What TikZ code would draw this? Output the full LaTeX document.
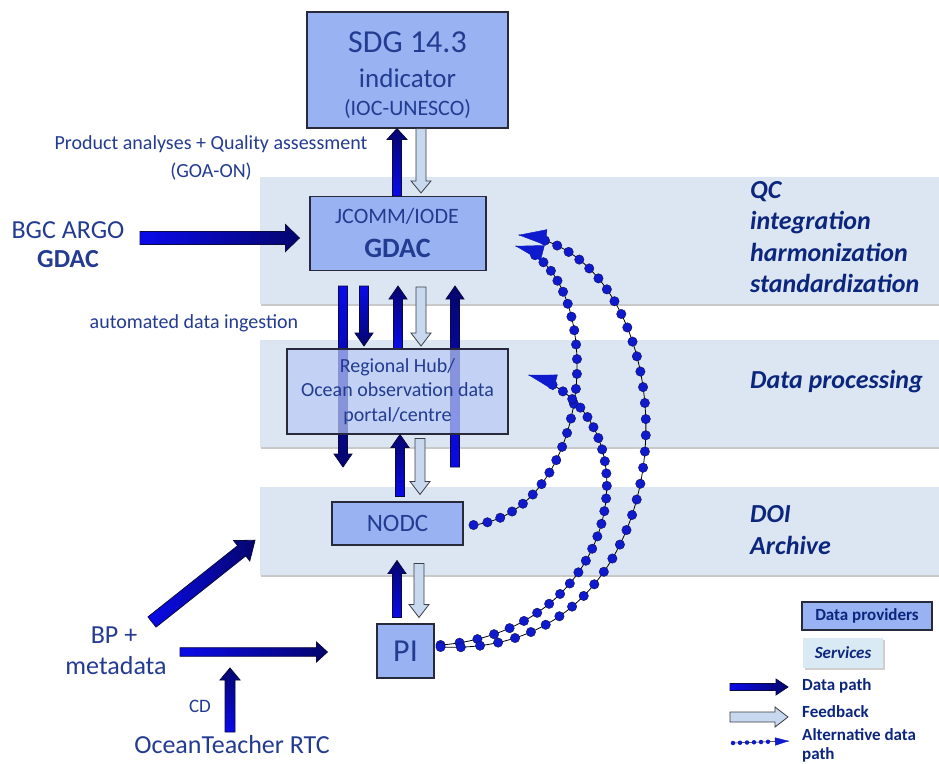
\documentclass[tikz,border=0pt]{standalone}
\usepackage{fontspec}
\setmainfont{Carlito}
\usetikzlibrary{calc,arrows.meta,shadows}

\definecolor{bandfill}{RGB}{220,230,242}
\definecolor{boxfill}{RGB}{153,178,242}
\definecolor{hubfill}{RGB}{185,202,245}
\definecolor{svcfill}{RGB}{218,234,244}
\definecolor{boxline}{RGB}{40,42,60}
\definecolor{txt}{RGB}{35,60,145}
\definecolor{lbl}{RGB}{12,38,125}
\definecolor{arrlight}{RGB}{10,10,235}
\definecolor{arrdark}{RGB}{5,5,110}
\definecolor{arredge}{RGB}{10,10,60}
\definecolor{fbfill}{RGB}{200,216,238}
\definecolor{fbedge}{RGB}{60,62,70}
\definecolor{dotblue}{RGB}{15,25,205}

% #1 style, #2 tail, #3 tip, #4 shaft half width, #5 head half width, #6 head length
\newcommand\blockarrow[6]{%
  \coordinate (bantmp) at ($(#3)!#6!(#2)$);
  \path[#1] ($(#2)!#4!90:(#3)$) -- ($(bantmp)!#4!90:(#3)$) -- ($(bantmp)!#5!90:(#3)$) -- (#3)
    -- ($(bantmp)!#5!-90:(#3)$) -- ($(bantmp)!#4!-90:(#3)$) -- ($(#2)!#4!-90:(#3)$) -- cycle;}

\begin{document}
\begin{tikzpicture}[x=1pt,y=-1pt,
  band/.style={fill=bandfill, inner sep=0pt, anchor=north west,
    drop shadow={shadow xshift=1.2pt, shadow yshift=-2.2pt, opacity=0.35, fill=black!60}},
  box/.style={draw=boxline, line width=1.1pt, fill=boxfill, inner sep=0pt, text=txt},
  tx/.style={text=txt, inner sep=0pt, anchor=base},
  lab/.style={text=lbl, inner sep=0pt, font=\fontsize{26}{31.5}\selectfont\bfseries\itshape, align=left},
  leg/.style={text=lbl, inner sep=0pt, anchor=west, font=\fontsize{17}{19}\selectfont\bfseries, align=left},
  dataup/.style={draw=arredge, line width=0.8pt, top color=arrdark, bottom color=arrlight},
  datadown/.style={draw=arredge, line width=0.8pt, top color=arrlight, bottom color=arrdark},
  dataright/.style={draw=arredge, line width=0.8pt, left color=arrlight, right color=arrdark},
  feedback/.style={draw=fbedge, line width=0.8pt, fill=fbfill},
  altcurve/.style={draw=black, line width=0.8pt},
  althead/.style={draw=dotblue, line width=0.4pt, -{Triangle[length=28pt,width=16pt,color=dotblue]}},
  dotnode/.style={circle, fill=dotblue, draw=arredge, line width=0.3pt, inner sep=0pt, minimum size=9.5pt},
  altheadsmall/.style={draw=dotblue, line width=0.4pt, -{Triangle[length=14pt,width=8pt,color=dotblue]}},
  dotsmall/.style={circle, fill=dotblue, inner sep=0pt, minimum size=4.5pt}
]
\useasboundingbox (0,0) rectangle (939,763);
\clip (0,0) rectangle (939,763);
\fill[white] (0,0) rectangle (939,763);

% bands
\node[band, minimum width=700pt, minimum height=127pt] (b1) at (260,177) {};
\node[band, minimum width=700pt, minimum height=107pt] (b2) at (260,340) {};
\node[band, minimum width=700pt, minimum height=88pt] (b3) at (260,487) {};

\node[lab, anchor=west] (l1) at (750,237) {QC\\integration\\harmonization\\standardization};
\node[lab, anchor=base west] (l2) at (750,388) {Data processing};
\node[lab, anchor=west] (l3) at (750,530) {DOI\\Archive};

% boxes (except hub)
\node[box, minimum width=201pt, minimum height=116pt] (sdg) at (407.5,70) {};
\node[tx, font=\fontsize{32}{36}\selectfont] (sdg1) at (407.5,52) {SDG 14.3};
\node[tx, font=\fontsize{27}{30}\selectfont] (sdg2) at (407.5,87) {indicator};
\node[tx, font=\fontsize{22}{26}\selectfont] (sdg3) at (407.5,115) {(IOC-UNESCO)};

\node[box, minimum width=176pt, minimum height=74pt] (gdac) at (398,233.5) {};
\node[tx, font=\fontsize{22}{26}\selectfont] (gdac1) at (397,223) {JCOMM/IODE};
\node[tx, font=\fontsize{28}{32}\selectfont\bfseries] (gdac2) at (397.5,257) {GDAC};

\node[box, minimum width=131pt, minimum height=43pt, font=\fontsize{25}{28}\selectfont] (nodc) at (397.5,523.5) {NODC};
\node[box, minimum width=57pt, minimum height=54pt, font=\fontsize{32}{36}\selectfont] (pi) at (405.5,651) {PI};

% helper x positions
\foreach \xx in {343,364,397,398,400,419,420,421,455}
  \coordinate (x\xx) at (\xx,0);

% SDG <-> GDAC
\coordinate (u1s) at (gdac.north -| x397);
\coordinate (u1e) at (sdg.south -| x397);
\blockarrow{dataup}{u1s}{u1e}{4.5pt}{10pt}{11pt}
\coordinate (f1s) at (sdg.south -| x421);
\coordinate (f1e) at ($(gdac.north -| x421)+(0,-3)$);
\blockarrow{feedback}{f1s}{f1e}{5pt}{10pt}{12pt}

% GDAC <-> Hub
\coordinate (as) at ($(gdac.south -| x343)+(0,15)$);
\coordinate (ae) at (343,467);
\blockarrow{datadown}{as}{ae}{4.5pt}{9pt}{13pt}
\coordinate (bs) at ($(gdac.south -| x364)+(0,15)$);
\coordinate (be) at (364,346);
\blockarrow{datadown}{bs}{be}{4.5pt}{9pt}{13pt}
\coordinate (cs) at (398,349);
\coordinate (ce) at ($(gdac.south -| x398)+(0,15)$);
\blockarrow{dataup}{cs}{ce}{4.5pt}{9pt}{13pt}
\coordinate (ds) at ($(gdac.south -| x421)+(0,16)$);
\coordinate (de) at (421,346);
\blockarrow{feedback}{ds}{de}{5pt}{10pt}{13pt}
\coordinate (es) at (455,467);
\coordinate (ee) at ($(gdac.south -| x455)+(0,15)$);
\blockarrow{dataup}{es}{ee}{4.5pt}{9pt}{13pt}

% hub (semi-transparent, over the arrows)
\node[box, fill=hubfill, fill opacity=0.72, text opacity=1, minimum width=221pt, minimum height=85pt,
  align=center, font=\fontsize{20}{24.5}\selectfont] (hub) at (397.5,391.5)
  {Regional Hub/\\Ocean observation data\\portal/centre};

% Hub <-> NODC
\coordinate (gs) at ($(nodc.north -| x400)+(0,-5)$);
\coordinate (ge) at (hub.south -| x400);
\blockarrow{dataup}{gs}{ge}{4.5pt}{9pt}{13pt}
\coordinate (hs) at ($(hub.south -| x420)+(0,4)$);
\coordinate (he) at ($(nodc.north -| x420)+(0,-7)$);
\blockarrow{feedback}{hs}{he}{5pt}{10pt}{13pt}

% NODC <-> PI
\coordinate (is) at ($(pi.north -| x397)+(0,-6)$);
\coordinate (ie) at ($(nodc.south -| x397)+(0,15)$);
\blockarrow{dataup}{is}{ie}{4.5pt}{9pt}{13pt}
\coordinate (js) at ($(nodc.south -| x419)+(0,18)$);
\coordinate (je) at ($(pi.north -| x419)+(0,-6)$);
\blockarrow{feedback}{js}{je}{5pt}{10pt}{13pt}

% left inputs
\node[tx, font=\fontsize{26}{30}\selectfont] (bgc1) at (68,238) {BGC ARGO};
\node[tx, font=\fontsize{26}{30}\selectfont\bfseries] (bgc2) at (68,267) {GDAC};
\coordinate (bgcT) at (140,238);
\coordinate (bgcH) at ($(gdac.west)+(-10,4.5)$);
\blockarrow{dataright}{bgcT}{bgcH}{6.5pt}{13.5pt}{14pt}

\node[tx, font=\fontsize{20}{24}\selectfont] (prod1) at (211,149) {Product analyses + Quality assessment};
\node[tx, font=\fontsize{20}{24}\selectfont] (prod2) at (211,177) {(GOA-ON)};
\node[tx, font=\fontsize{20}{24}\selectfont] (auto) at (194,328) {automated data ingestion};

\node[tx, font=\fontsize{26}{30}\selectfont] (bp1) at (114,643) {BP +};
\node[tx, font=\fontsize{26}{30}\selectfont] (bp2) at (116,674) {metadata};
\node[tx, font=\fontsize{19}{22}\selectfont] (cd) at (200,712) {CD};
\node[tx, font=\fontsize{26}{30}\selectfont] (ot) at (232,753) {OceanTeacher RTC};

\coordinate (dgT) at (152,622);
\coordinate (dgH) at ($(b3.west)+(-5,9)$);
\blockarrow{dataright}{dgT}{dgH}{6.5pt}{13pt}{17pt}
\coordinate (kT) at (180,652);
\coordinate (kH) at ($(pi.west)+(-49,1)$);
\blockarrow{dataright}{kT}{kH}{4.3pt}{10pt}{11pt}
\coordinate (cdT) at (230,732);
\coordinate (cdH) at (230,668);
\blockarrow{dataup}{cdT}{cdH}{5pt}{10pt}{12pt}

% alternative data paths
\coordinate (cA1) at ($(nodc.east)+(10,1.5)$);
\coordinate (cA2) at ($(gdac.east)+(29,12.5)$);
\coordinate (kA1) at (598,510);
\coordinate (kA2) at (608,270);
\coordinate (cB1) at ($(pi.east)+(6,-6)$);
\coordinate (cB2) at ($(hub.east)+(20,-16.5)$);
\coordinate (kB1) at (630,630);
\coordinate (kB2) at (655,410);
\coordinate (cC1) at ($(pi.east)+(6,-4)$);
\coordinate (cC2) at ($(gdac.east)+(32,1.5)$);
\coordinate (kC1) at (705,660);
\coordinate (kC2) at (695,250);
\draw[altcurve] (cA1) .. controls (kA1) and (kA2) .. (cA2);
\draw[altcurve] (cB1) .. controls (kB1) and (kB2) .. (cB2);
\draw[altcurve] (cC1) .. controls (kC1) and (kC2) .. (cC2);
\path (cA1) .. controls (kA1) and (kA2) .. (cA2)
  \foreach \k [evaluate=\k as \pp using \k/26] in {0,...,24} {node[dotnode, pos=\pp] {}};
\path (cB1) .. controls (kB1) and (kB2) .. (cB2)
  \foreach \k [evaluate=\k as \pp using \k/29] in {0,...,27} {node[dotnode, pos=\pp] {}};
\path (cC1) .. controls (kC1) and (kC2) .. (cC2)
  \foreach \k [evaluate=\k as \pp using \k/38] in {0,...,36} {node[dotnode, pos=\pp] {}};
\draw[althead] ($(cA2)!28pt!(kA2)$) -- (cA2);
\draw[althead] ($(cB2)!28pt!(kB2)$) -- (cB2);
\draw[althead] ($(cC2)!28pt!(kC2)$) -- (cC2);

% legend
\node[box, minimum width=130pt, minimum height=28pt, text=lbl, font=\fontsize{17}{19}\selectfont\bfseries] (prov) at (867,616) {Data providers};
\node[fill=svcfill, inner sep=0pt, minimum width=80pt, minimum height=30pt, text=lbl,
  font=\fontsize{17}{19}\selectfont\bfseries\itshape,
  drop shadow={shadow xshift=1.5pt, shadow yshift=-1.5pt, opacity=0.3, fill=black!60}] (svc) at (843,653) {Services};
\coordinate (lg1s) at (730,687);
\coordinate (lg1e) at (788,687);
\blockarrow{dataright}{lg1s}{lg1e}{3.5pt}{8pt}{12pt}
\node[leg] (lgt1) at (802,686) {Data path};
\coordinate (lg2s) at (730,717);
\coordinate (lg2e) at (788,717);
\blockarrow{feedback}{lg2s}{lg2e}{5pt}{10pt}{13pt}
\node[leg] (lgt2) at (802,712) {Feedback};
\coordinate (lg3s) at (733,743);
\coordinate (lg3e) at (789,741);
\draw[altcurve, line width=0.5pt] (lg3s) -- (lg3e);
\path (lg3s) -- (lg3e)
  \foreach \k [evaluate=\k as \pp using \k/8] in {0,...,5} {node[dotsmall, pos=\pp] {}};
\draw[altheadsmall] ($(lg3e)!14pt!(lg3s)$) -- (lg3e);
\node[leg] (lgt3) at (802,745) {Alternative data\\path};
\end{tikzpicture}
\end{document}
